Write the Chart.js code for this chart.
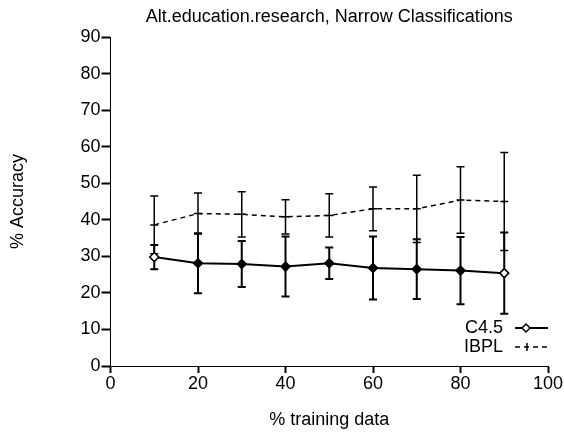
<!DOCTYPE html>
<html>
<head>
<meta charset="utf-8">
<script src="https://cdn.jsdelivr.net/npm/chart.js@4"></script>
<style>
html,body{margin:0;padding:0;background:#fff;}
#wrap{width:564px;height:434px;position:relative;}
</style>
</head>
<body>
<div id="wrap"><canvas id="c" width="564" height="434"></canvas></div>
<script>
const chartTitle = "Alt.education.research, Narrow Classifications";
const xTitle = "% training data";
const yTitle = "% Accuracy";
const trainingPct = [10, 20, 30, 40, 50, 60, 70, 80, 90];
const c45Mean = [29.8, 28.1, 27.9, 27.2, 28.1, 26.8, 26.5, 26.1, 25.4];
const c45Err  = [3.3, 8.2, 6.3, 8.2, 4.3, 8.6, 8.2, 9.2, 11.1];
const ibplMean = [38.6, 41.7, 41.5, 40.8, 41.2, 43.0, 43.0, 45.4, 45.0];
const ibplErr  = [7.9, 5.6, 6.2, 4.7, 5.9, 6.0, 9.2, 9.1, 13.4];
const xTicks = [0, 20, 40, 60, 80, 100];
const yTicks = [0, 10, 20, 30, 40, 50, 60, 70, 80, 90];

const FONT = "'Liberation Sans', Arial, Helvetica, sans-serif";

const errorBars = {
  id: 'errorBars',
  beforeDatasetsDraw(chart) {
    const ctx = chart.ctx;
    const xs = chart.scales.x, ys = chart.scales.y;
    chart.data.datasets.forEach(ds => {
      const errs = ds.errors;
      ctx.save();
      ctx.strokeStyle = '#000';
      ctx.lineWidth = ds.errWidth;
      ds.data.forEach((p, i) => {
        const px = xs.getPixelForValue(p.x);
        const top = ys.getPixelForValue(p.y + errs[i]);
        const bot = ys.getPixelForValue(p.y - errs[i]);
        ctx.beginPath();
        ctx.moveTo(px, top); ctx.lineTo(px, bot);
        ctx.moveTo(px - 4, top); ctx.lineTo(px + 4, top);
        ctx.moveTo(px - 4, bot); ctx.lineTo(px + 4, bot);
        ctx.stroke();
      });
      ctx.restore();
    });
  }
};

const extras = {
  id: 'extras',
  afterDraw(chart) {
    const ctx = chart.ctx;
    const a = chart.chartArea;
    ctx.save();
    ctx.fillStyle = '#000';
    ctx.font = "18px " + FONT;
    ctx.textAlign = 'center';
    ctx.textBaseline = 'middle';
    ctx.fillText(chartTitle, (a.left + a.right) / 2, 17.5);
    // legend
    const rows = [328, 347];
    chart.data.datasets.forEach((ds, i) => {
      const y = rows[i];
      ctx.textAlign = 'right';
      ctx.fillText(ds.label, 503, y);
      ctx.strokeStyle = '#000';
      ctx.lineWidth = ds.borderWidth;
      ctx.setLineDash(ds.borderDash || []);
      ctx.beginPath(); ctx.moveTo(515, y); ctx.lineTo(548, y); ctx.stroke();
      ctx.setLineDash([]);
      ctx.lineWidth = 1.5;
      if (ds.pointStyle === 'rectRot') {
        ctx.fillStyle = '#fff';
        ctx.beginPath();
        ctx.moveTo(526, y - 4); ctx.lineTo(530, y); ctx.lineTo(526, y + 4); ctx.lineTo(522, y);
        ctx.closePath(); ctx.fill(); ctx.stroke();
        ctx.fillStyle = '#000';
      } else {
        ctx.beginPath(); ctx.moveTo(527, y - 4); ctx.lineTo(527, y + 4); ctx.stroke();
      }
    });
    ctx.restore();
  }
};

const c45Fill = c45Mean.map((v, i) => (i === 0 || i === c45Mean.length - 1) ? '#fff' : '#000');

new Chart(document.getElementById('c'), {
  type: 'line',
  data: {
    datasets: [
      {
        label: 'C4.5',
        data: trainingPct.map((x, i) => ({x: x, y: c45Mean[i]})),
        errors: c45Err,
        errWidth: 2,
        borderColor: '#000',
        borderWidth: 2,
        pointStyle: 'rectRot',
        pointRadius: 4.5,
        pointBorderWidth: 1.5,
        pointBackgroundColor: c45Fill,
        pointBorderColor: '#000',
        tension: 0
      },
      {
        label: 'IBPL',
        data: trainingPct.map((x, i) => ({x: x, y: ibplMean[i]})),
        errors: ibplErr,
        errWidth: 1.5,
        borderColor: '#000',
        borderWidth: 1.5,
        borderDash: [5, 4],
        pointStyle: 'line',
        pointRadius: 4,
        pointBorderWidth: 1.5,
        pointBorderColor: '#000',
        tension: 0
      }
    ]
  },
  options: {
    responsive: false,
    animation: false,
    layout: { padding: { left: 0, right: 16, top: 37, bottom: 0 } },
    plugins: { legend: { display: false }, title: { display: false }, tooltip: { enabled: false } },
    scales: {
      x: {
        type: 'linear', min: 0, max: 100,
        afterFit: s => { s.height = 68; },
        afterBuildTicks: s => { s.ticks = xTicks.map(v => ({value: v})); },
        ticks: { color: '#000', font: { family: FONT, size: 18 }, padding: 0, maxRotation: 0 },
        grid: { drawOnChartArea: false, drawTicks: true, tickLength: 7, tickWidth: 2, tickColor: '#000' },
        border: { display: true, color: '#000', width: 1, dash: [1, 2] },
        title: { display: true, text: xTitle, color: '#000', font: { family: FONT, size: 18 }, padding: { top: 0, bottom: 3 } }
      },
      y: {
        type: 'linear', min: 0, max: 90,
        afterFit: s => { s.width = 110.5; },
        afterBuildTicks: s => { s.ticks = yTicks.map(v => ({value: v})); },
        ticks: { color: '#000', font: { family: FONT, size: 18 }, padding: 1 },
        grid: { drawOnChartArea: false, drawTicks: true, tickLength: 9, tickWidth: 2, tickColor: '#000' },
        border: { display: true, color: '#000', width: 1, dash: [1, 2] },
        title: { display: true, text: yTitle, color: '#000', font: { family: FONT, size: 18 }, padding: { top: 7, bottom: 0 } }
      }
    }
  },
  plugins: [errorBars, extras]
});
</script>
</body>
</html>
